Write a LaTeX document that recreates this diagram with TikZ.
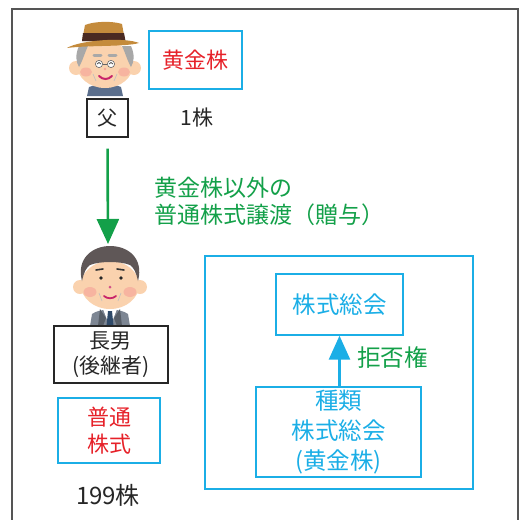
\documentclass[tikz,border=0pt]{standalone}
\usepackage{fontspec}
\setmainfont{Noto Sans CJK JP}
\usetikzlibrary{arrows.meta}

\definecolor{cyanline}{HTML}{1BAEE6}
\definecolor{redtext}{HTML}{E62129}
\definecolor{greentext}{HTML}{13A049}
\definecolor{framegray}{HTML}{555555}
\definecolor{skin}{HTML}{FAD2AE}
\definecolor{cheek}{HTML}{F5A79A}
\definecolor{hatbrown}{HTML}{C48B3C}
\definecolor{hatband}{HTML}{4A2A22}
\definecolor{grayhair}{HTML}{A8A8A8}
\definecolor{cloth}{HTML}{5A6E8C}
\definecolor{sonhair}{HTML}{5F5757}
\definecolor{suit}{HTML}{7D8693}
\definecolor{tie}{HTML}{2E4968}
\definecolor{mouth}{HTML}{C8246A}

\newcommand{\fs}[2]{\fontsize{#1}{#2}\selectfont}

\begin{document}
\begin{tikzpicture}[x=1pt, y=-1pt,
    cyanbox/.style={draw=cyanline, line width=1.3pt, inner sep=0pt, align=center},
    blackbox/.style={draw=black!85, line width=1.1pt, inner sep=0pt, align=center},
    redlbl/.style={text=redtext, font=\fs{22}{27}},
    bluelbl/.style={text=cyanline, font=\fs{23.5}{30}},
    plain/.style={text=black!85, font=\fs{21}{25}}]
    \useasboundingbox (0,0) rectangle (520,520);
    % frame
    \draw[framegray, line width=1.2pt] (12,520) -- (12,9) -- (518,9) -- (518,520);

    % father
    \fill[cloth] (87,96) -- (89,87) .. controls (100,83) and (112,83) .. (121,87) -- (123,96) -- cycle;
    \fill[skin] (76,68) circle (7);
    \fill[skin] (134,68) circle (7);
    \fill[skin] (105,65) ellipse (28 and 23);
    \fill[grayhair] (79,46) .. controls (75,55) and (76,62) .. (79,67) .. controls (83,60) and (85,52) .. (88,46) -- cycle;
    \fill[grayhair] (131,46) .. controls (135,55) and (134,62) .. (131,67) .. controls (127,60) and (125,52) .. (122,46) -- cycle;
    \fill[cheek!70!skin] (86,72) ellipse (6 and 4.5);
    \fill[cheek!70!skin] (124,72) ellipse (6 and 4.5);
    \draw[grayhair, line width=3pt, line cap=round] (94,55) -- (101,55);
    \draw[grayhair, line width=3pt, line cap=round] (109,55) -- (116,55);
    \draw[black!60, line width=0.6pt, fill=white] (99,64) circle (3.6) (111,64) circle (3.6);
    \draw[black!60, line width=0.6pt] (102.6,64) -- (107.4,64);
    \draw[black!70, line width=0.8pt] (97,64) .. controls (99,62) .. (101,64);
    \draw[black!70, line width=0.8pt] (109,64) .. controls (111,62) .. (113,64);
    \fill[cheek] (105,69) circle (1.4);
    \draw[mouth, line width=2pt, line cap=round] (99,76) .. controls (103,80) and (108,80) .. (112,76);
    \draw[black!25, line width=0.6pt] (93,74) .. controls (94,78) .. (96,81);
    \draw[black!25, line width=0.6pt] (117,74) .. controls (116,78) .. (114,81);
    % hat
    \fill[hatbrown] (82,41) -- (85,25) .. controls (95,21) and (113,21) .. (122,24) -- (125,41) -- cycle;
    \fill[hatband] (83,33) -- (124,33) -- (125.5,41) -- (82,41) -- cycle;
    \fill[hatbrown] (67,48) .. controls (80,40) and (125,37) .. (139,43) .. controls (125,47) and (90,45) .. (67,48) -- cycle;

    \node[cyanbox, redlbl, minimum width=93pt, minimum height=58pt] (gold) at (195.5,60) {黄金株};
    \node[blackbox, plain, font=\fs{20}{24}, minimum width=41pt, minimum height=38pt] (father) at (107.5,118) {父};
    \node[plain] (one) at (197,118) {1株};

    % son
    \fill[suit] (90,326) -- (92,314) .. controls (100,308) and (120,308) .. (128,314) -- (130,326) -- cycle;
    \fill[white] (103,309) -- (117,309) -- (112,322) -- (108,322) -- cycle;
    \fill[tie] (108,311) -- (112,311) -- (113.5,326) -- (106.5,326) -- cycle;
    \fill[suit!70!black] (100,309) -- (106,318) -- (103,326) -- (98,326) -- cycle;
    \fill[suit!70!black] (120,309) -- (114,318) -- (117,326) -- (122,326) -- cycle;
    \fill[skin] (80,287) circle (7);
    \fill[skin] (140,287) circle (7);
    \fill[skin] (110,285) ellipse (29 and 24);
    \fill[sonhair] (82,281) .. controls (76,258) and (93,246) .. (110,246) .. controls (128,246) and (144,258) .. (138,281)
        .. controls (136,272) and (134,268) .. (130,265) .. controls (120,261) and (100,261) .. (90,265)
        .. controls (86,268) and (84,272) .. cycle;
    \fill[cheek!70!skin] (90,292) ellipse (6.5 and 5);
    \fill[cheek!70!skin] (130,292) ellipse (6.5 and 5);
    \draw[black!80, line width=1.6pt, line cap=round] (96,270) -- (103,269);
    \draw[black!80, line width=1.6pt, line cap=round] (117,269) -- (124,270);
    \fill[black!85] (101,278) circle (1.8) (121,278) circle (1.8);
    \fill[mouth!80] (110,287) circle (1.5);
    \draw[mouth, line width=1.8pt, line cap=round] (104,296) .. controls (107,299) and (113,299) .. (116,296);
    \draw[black!25, line width=0.6pt] (99,293) .. controls (100,297) .. (102,301);
    \draw[black!25, line width=0.6pt] (121,293) .. controls (120,297) .. (118,301);

    \coordinate (sontop) at (108,244);
    \draw[greentext, line width=2.6pt, -{Triangle[width=22pt,length=25pt]}, shorten <=11pt] (father.south) -- (sontop);
    \node[anchor=west, align=left, text=greentext, font=\fs{23}{27}] (gift) at (151,201) {黄金株以外の\\普通株式譲渡（贈与）};

    \node[blackbox, plain, minimum width=114pt, minimum height=57pt] (son) at (111,354.5) {長男\\(後継者)};
    \node[cyanbox, redlbl, minimum width=102pt, minimum height=65pt] (common) at (109,430.5) {普通\\株式};
    \node[plain, font=\fs{24}{28}] (many) at (108,495) {199株};

    % shareholders meetings
    \node[cyanbox, minimum width=268pt, minimum height=233pt] (meeting) at (339,372.5) {};
    \node[cyanbox, bluelbl, minimum width=127pt, minimum height=61pt] (gm) at (339.5,304.5) {株式総会};
    \node[cyanbox, bluelbl, minimum width=165pt, minimum height=90pt] (classgm) at (338.5,432) {種類\\株式総会\\(黄金株)};
    \draw[cyanline, line width=2.6pt, -{Triangle[width=21pt,length=24pt]}] (classgm.north -| gm.south) -- (gm.south);
    \node[text=greentext, font=\fs{23.5}{27}] (veto) at (392.5,358) {拒否権};
\end{tikzpicture}
\end{document}
